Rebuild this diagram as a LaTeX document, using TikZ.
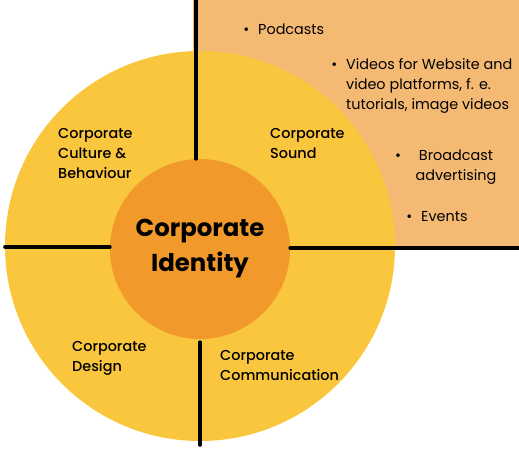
\documentclass[tikz,border=0pt]{standalone}
\usepackage{fontspec}
\setmainfont{Poppins}
\newfontfamily\labelfont{Poppins Medium}
\usetikzlibrary{positioning}
\definecolor{ringyellow}{HTML}{F9C63E}
\definecolor{coreorange}{HTML}{F2992B}
\definecolor{peach}{HTML}{F4BA73}

\begin{document}
\begin{tikzpicture}[x=1pt, y=-1pt,
  divider/.style={line width=3.6pt, line cap=round},
  area/.style={font=\labelfont\fontsize{14.4}{20}\selectfont, align=left, anchor=west, inner sep=0pt},
  item/.style={font=\fontsize{14.4}{20}\selectfont, align=left, anchor=west, inner sep=0pt}]
\useasboundingbox (0,0) rectangle (519,449);
% media panel behind the ring
\fill[peach] (193,0) rectangle (519,248);
% rings
\node[circle, fill=ringyellow, inner sep=0pt, minimum size=390pt] (ring) at (200,246) {};
\node[circle, fill=coreorange, inner sep=0pt, minimum size=180pt, align=center,
  font=\bfseries\fontsize{24.4}{35}\selectfont] (core) at (200,249) {Corporate\\Identity};
% dividers
\coordinate (topend) at (196,0);
\coordinate (leftend) at (5,247);
\coordinate (rightend) at (519,248);
\coordinate (bottomend) at (200,445);
\draw[divider] (topend |- core.north) -- (topend);
\draw[divider] (leftend) -- (leftend -| core.west);
\draw[divider] (core.east |- rightend) -- (rightend);
\draw[divider] ([yshift=-3pt]core.south) -- (bottomend);
% quarter labels
\node[area] (culture) at (58,153) {Corporate\\Culture \&\\Behaviour};
\node[area] (sound) at (270,143) {Corporate\\Sound};
\node[area] (design) at (72,358) {Corporate\\Design};
\node[area] (communication) at (220,365) {Corporate\\Communication};
% sound channels
\node[item] (podcasts) at (258,29) {\llap{•\hspace{9pt}}Podcasts};
\node[item] (videos) at (346,86) {\llap{•\hspace{9pt}}Videos for Website and\\video platforms, f. e.\\tutorials, image videos};
\node[item, align=center, anchor=center] (broadcast) at (456,167) {\llap{•\hspace{18pt}}Broadcast\\advertising};
\node[item] (events) at (421,217) {\llap{•\hspace{9pt}}Events};
\end{tikzpicture}
\end{document}
